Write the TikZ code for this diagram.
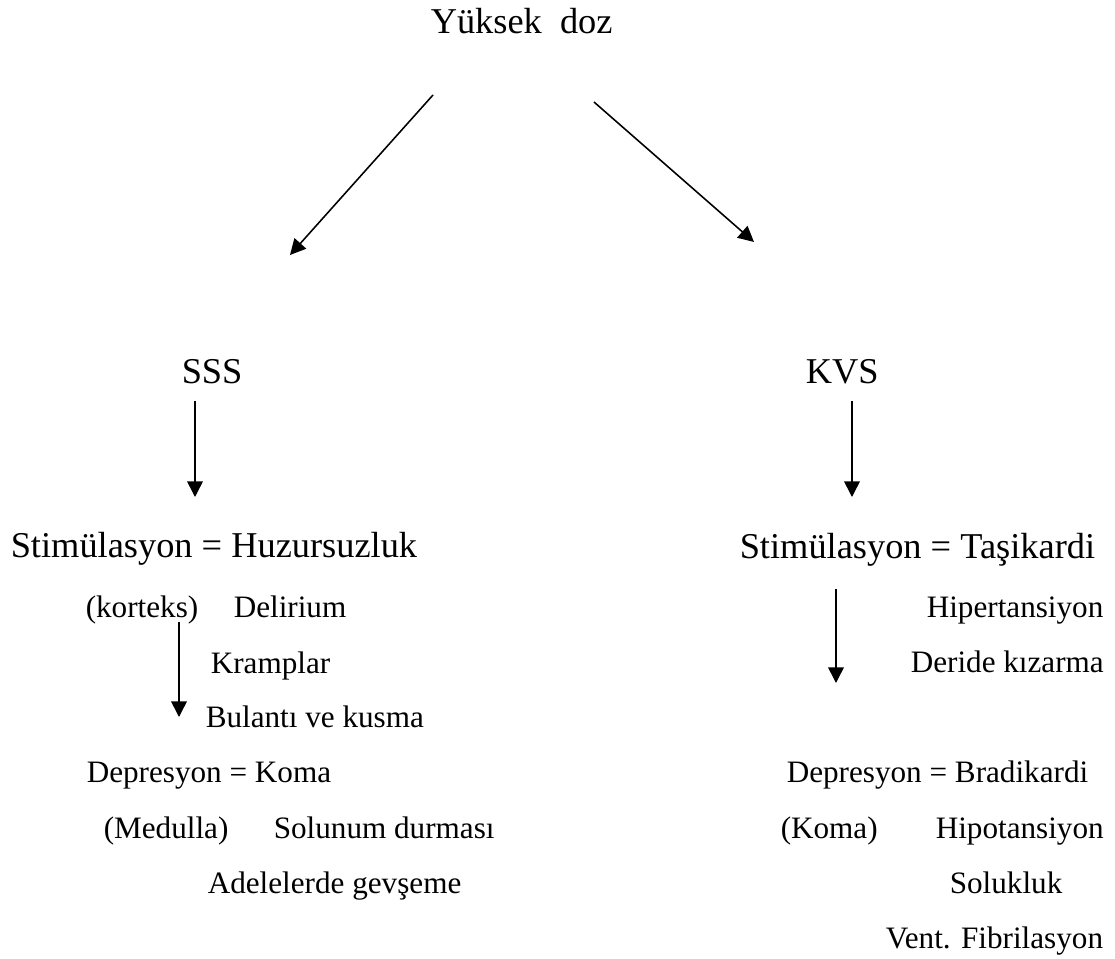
\documentclass[tikz,border=0pt]{standalone}
\usepackage{fontspec}
\setmainfont{Liberation Serif}
\usetikzlibrary{arrows.meta}
\begin{document}
\begin{tikzpicture}[x=0.385pt,y=-0.385pt,line width=0.6pt,
    >={Triangle[length=6pt,width=6pt]},
    big/.style={anchor=base west,inner sep=0pt,font=\fontsize{14}{16}\selectfont},
    small/.style={anchor=base west,inner sep=0pt,font=\fontsize{12}{14}\selectfont}]
  \useasboundingbox (0,0) rectangle (1115,959);
  % top
  \node[big] (Y) at (430,34) {Yüksek\ \ doz};
  \node[big] (S) at (181,384) {SSS};
  \node[big] (K) at (805,384) {KVS};
  \node[big] (SH) at (10,557) {Stimülasyon = Huzursuzluk};
  \node[big] (ST) at (739,558) {Stimülasyon = Taşikardi};
  % left column
  \node[small] (Ko) at (85,617) {(korteks)};
  \node[small] (De) at (233,617) {Delirium};
  \node[small] (Kr) at (210,673) {Kramplar};
  \node[small] (Bu) at (205,727) {Bulantı ve kusma};
  \node[small] (DK) at (86,782) {Depresyon = Koma};
  \node[small] (Me) at (103,838) {(Medulla)};
  \node[small] (So) at (273,838) {Solunum durması};
  \node[small] (Ad) at (207,893) {Adelelerde gevşeme};
  % right column
  \node[small] (Hi) at (926,617) {Hipertansiyon};
  \node[small] (Dr) at (910,672) {Deride kızarma};
  \node[small] (DB) at (786,782) {Depresyon = Bradikardi};
  \node[small] (Km) at (780,838) {(Koma)};
  \node[small] (Hp) at (935,838) {Hipotansiyon};
  \node[small] (Sl) at (949,893) {Solukluk};
  \node[small] (VF) at (885,948) {Vent. Fibrilasyon};
  % arrow ends
  \coordinate (Y1) at (433,95);
  \coordinate (Y2) at (594,102);
  \coordinate (S0) at (290,255);
  \coordinate (K0) at (754,242);
  \coordinate (S1) at (195,401);
  \coordinate (S2) at (195,497);
  \coordinate (K1) at (852,401);
  \coordinate (K2) at (852,497);
  \coordinate (C1) at (179,622);
  \coordinate (C2) at (179,717);
  \coordinate (T1) at (836,589);
  \coordinate (T2) at (836,683);
  \path[->]
    (Y1) edge (S0)
    (Y2) edge (K0)
    (S1) edge (S2)
    (K1) edge (K2)
    (C1) edge (C2)
    (T1) edge (T2);
\end{tikzpicture}
\end{document}
